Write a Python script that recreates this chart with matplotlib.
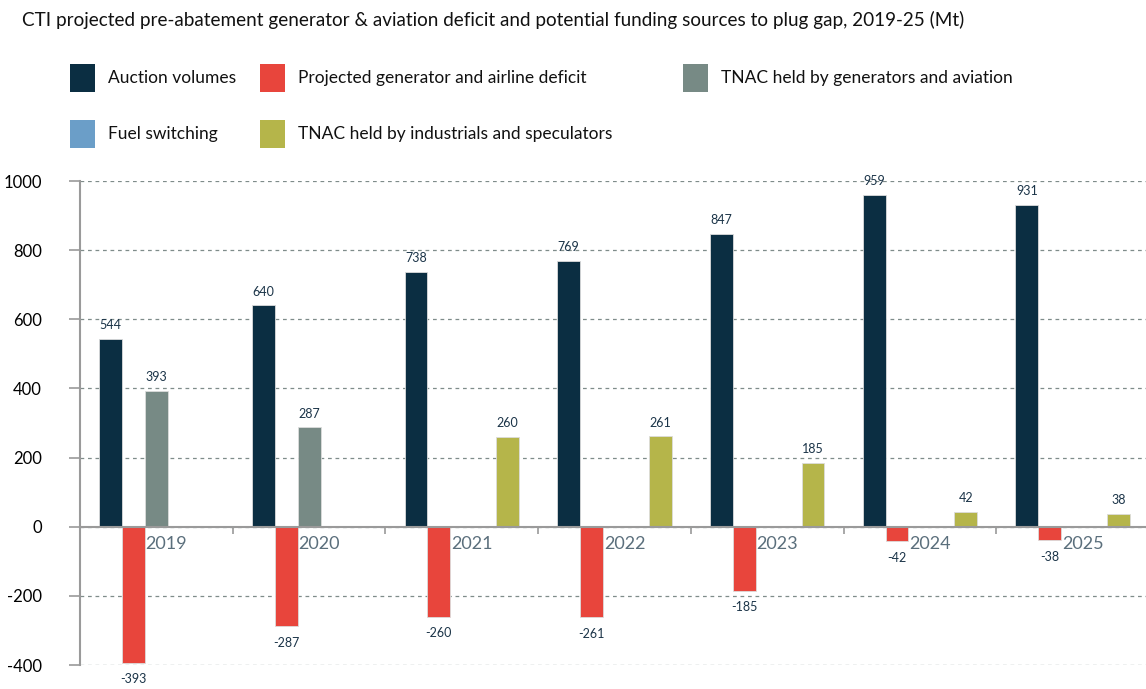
import numpy as np
import matplotlib.pyplot as plt
import matplotlib.transforms as mtransforms
from matplotlib.patches import Rectangle

plt.rcParams['font.family'] = ['Lato', 'DejaVu Sans']

# data (Mt)
years = ['2019', '2020', '2021', '2022', '2023', '2024', '2025']
auction = [544, 640, 738, 769, 847, 959, 931]
deficit = [-393, -287, -260, -261, -185, -42, -38]
tnac_gen = [393, 287, np.nan, np.nan, np.nan, np.nan, np.nan]
fuel_switch = [np.nan] * 7
tnac_ind = [np.nan, np.nan, 260, 261, 185, 42, 38]

series_names = ['Auction volumes', 'Projected generator and airline deficit',
                'TNAC held by generators and aviation', 'Fuel switching',
                'TNAC held by industrials and speculators']
colors = ['#0b2e42', '#e8453c', '#778a85', '#6b9ec8', '#b5b54a']
series = [auction, deficit, tnac_gen, fuel_switch, tnac_ind]

fig = plt.figure(figsize=(11.46, 6.89), dpi=100)
ax = fig.add_axes([80 / 1146, 24 / 689, 1069 / 1146, 484 / 689])

x = np.arange(len(years))
w = 0.15
for k, (vals, col) in enumerate(zip(series, colors)):
    pos = x + (k - 2) * w
    vals = np.array(vals, dtype=float)
    ax.bar(pos, vals, width=w, color=col, edgecolor='#dcdcdc', linewidth=0.6, zorder=3)
    for p, v in zip(pos, vals):
        if np.isnan(v):
            continue
        off = 10 if v >= 0 else -12
        ax.annotate(f'{v:.0f}', (p, v), xytext=(0, off), textcoords='offset points',
                    ha='center', va='center', fontsize=9, color='#1b3448')

ax.set_xlim(-0.5, len(years) - 0.5)
ax.set_ylim(-400, 1000)
ax.set_yticks(np.arange(-400, 1001, 200))
ax.set_yticklabels([str(t) for t in range(-400, 1001, 200)])
ax.tick_params(axis='y', length=8, width=1.2, color='#9a9a9a', pad=19.5, labelsize=12)
ax.grid(axis='y', linestyle=(0, (3, 3)), color='#7f8c8a', linewidth=0.9, zorder=0)

for s in ['top', 'right']:
    ax.spines[s].set_visible(False)
ax.spines['left'].set_color('#9a9a9a')
ax.spines['left'].set_linewidth(1.5)
ax.spines['bottom'].set_position(('data', 0))
ax.spines['bottom'].set_color('#9a9a9a')
ax.spines['bottom'].set_linewidth(1.5)
ax.spines['bottom'].set_zorder(4)

ax.set_xticks(x)
ax.set_xticklabels(years)
ax.tick_params(axis='x', length=0, pad=7, labelsize=13, labelcolor='#5b6f7c')
shift = mtransforms.ScaledTranslation(0.10, 0, fig.dpi_scale_trans)
for lab in ax.get_xticklabels():
    lab.set_transform(lab.get_transform() + shift)
ax.set_xticks(np.arange(0.5, len(years) - 0.5, 1), minor=True)
ax.tick_params(axis='x', which='minor', length=5, width=1.2, color='#9a9a9a', direction='out')

fig.text(22 / 1146, 1 - 20 / 689,
         'CTI projected pre-abatement generator & aviation deficit and potential funding sources to plug gap, 2019-25 (Mt)',
         fontsize=13.6, va='center', ha='left', color='#111111')

# legend, two rows
leg_pos = [(70, 64), (260, 64), (683, 64), (70, 120), (260, 120)]
for (px, py), name, col in zip(leg_pos, series_names, colors):
    fig.add_artist(Rectangle((px / 1146, 1 - (py + 28) / 689), 25 / 1146, 28 / 689,
                             transform=fig.transFigure, facecolor=col, edgecolor='none'))
    fig.text((px + 38) / 1146, 1 - (py + 14) / 689, name, fontsize=12.5,
             va='center', ha='left', color='#111111')

fig.savefig('out.png', dpi=100)
